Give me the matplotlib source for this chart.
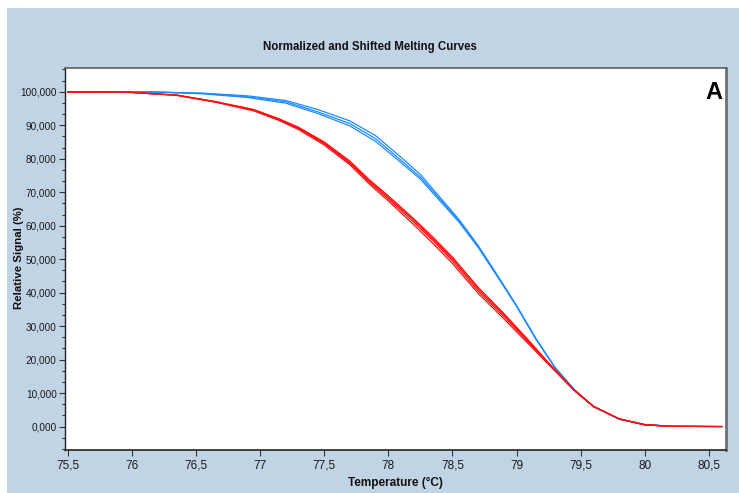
import matplotlib
matplotlib.use("Agg")
import matplotlib.pyplot as plt
from matplotlib.patches import Rectangle
from matplotlib.ticker import FixedLocator, AutoMinorLocator, FuncFormatter

# ---------------- data ----------------
red_temp = [75.5, 76.0, 76.35, 76.65, 76.95, 77.15, 77.3, 77.5, 77.7, 77.85, 78.0, 78.2,
            78.35, 78.5, 78.7, 78.9, 79.1, 79.25, 79.45, 79.6, 79.8, 80.0, 80.2, 80.6]
red_1 = [100, 99.8, 99.0, 97.0, 94.5, 91.6, 89.0, 84.5, 78.6, 73.0, 68.0, 61.0,
         55.5, 49.5, 40.5, 32.9, 24.9, 18.7, 10.8, 6.0, 2.3, 0.5, 0.1, 0.0]
red_2 = [100, 99.8, 99.0, 97.1, 94.7, 91.9, 89.4, 85.0, 79.3, 73.8, 68.9, 62.0,
         56.5, 50.6, 41.6, 33.8, 25.5, 19.0, 10.9, 6.0, 2.3, 0.5, 0.1, 0.0]
red_3 = [100, 99.8, 98.9, 96.9, 94.3, 91.4, 88.7, 84.1, 78.2, 72.5, 67.4, 60.2,
         54.6, 48.7, 39.8, 32.2, 24.4, 18.5, 10.7, 5.9, 2.3, 0.5, 0.1, 0.0]
red_4 = [100, 99.8, 99.0, 97.0, 94.6, 91.7, 89.2, 84.8, 78.9, 73.4, 68.5, 61.6,
         56.0, 50.1, 41.1, 33.4, 25.2, 18.9, 10.8, 6.0, 2.3, 0.5, 0.1, 0.0]

blue_temp = [75.5, 76.0, 76.2, 76.55, 76.9, 77.2, 77.45, 77.7, 77.9, 78.1, 78.25, 78.4,
             78.55, 78.7, 78.85, 79.0, 79.15, 79.3, 79.45, 79.6, 79.8, 80.0, 80.16]
blue_1 = [100, 100, 99.9, 99.5, 98.5, 97.0, 94.0, 90.5, 86.0, 79.5, 74.5, 68.0,
          61.5, 53.8, 45.0, 36.0, 26.2, 17.6, 11.0, 6.0, 2.2, 0.6, 0.2]
blue_2 = [100, 100, 99.9, 99.6, 98.8, 97.4, 94.7, 91.3, 86.9, 80.4, 75.3, 68.6,
          61.9, 54.1, 45.2, 36.1, 26.3, 17.6, 11.0, 6.0, 2.2, 0.6, 0.2]
blue_3 = [100, 100, 99.9, 99.4, 98.3, 96.6, 93.5, 89.8, 85.2, 78.8, 73.9, 67.5,
          61.1, 53.5, 44.8, 35.9, 26.1, 17.6, 11.0, 6.0, 2.2, 0.6, 0.2]

x_ticks = [75.5, 76, 76.5, 77, 77.5, 78, 78.5, 79, 79.5, 80, 80.5]
y_ticks = [0, 10, 20, 30, 40, 50, 60, 70, 80, 90, 100]

title = "Normalized and Shifted Melting Curves"
x_label = "Temperature (°C)"
y_label = "Relative Signal (%)"
panel_letter = "A"

# ---------------- styling ----------------
W, H = 739, 493
DPI = 100
bg = "#c1d4e5"
red = "#ff1010"
blue = "#1e8cff"
fam = ["Liberation Sans", "DejaVu Sans"]

fig = plt.figure(figsize=(W / DPI, H / DPI), dpi=DPI, facecolor="white")
fig.patches.append(Rectangle((7 / W, 0), 1 - 7 / W, 1 - 8 / H,
                             transform=fig.transFigure, facecolor=bg,
                             edgecolor="none", zorder=-10))

ax = fig.add_axes([65 / W, 1 - 450 / H, (725.7 - 65) / W, (450 - 68) / H])
ax.set_facecolor("white")

for ys in (blue_1, blue_2, blue_3):
    ax.plot(blue_temp, ys, color=blue, lw=0.9)
for ys in (red_1, red_2, red_3, red_4):
    ax.plot(red_temp, ys, color=red, lw=0.9)

ax.set_xlim(75.479, 80.63)
ax.set_ylim(-7.0, 107.1)

ax.xaxis.set_major_locator(FixedLocator(x_ticks))
ax.yaxis.set_major_locator(FixedLocator(y_ticks))
ax.yaxis.set_minor_locator(AutoMinorLocator(3))
ax.xaxis.set_major_formatter(FuncFormatter(lambda v, p: (f"{v:g}").replace(".", ",")))
ax.yaxis.set_major_formatter(FuncFormatter(lambda v, p: f"{v:.3f}".replace(".", ",")))

ax.tick_params(axis="both", which="major", direction="out", length=4, width=0.8,
               color="#333333", pad=2)
ax.tick_params(axis="y", which="major", labelsize=7.2)
ax.tick_params(axis="x", which="major", labelsize=8.5, pad=3)
ax.tick_params(axis="y", which="minor", direction="out", length=2.5, width=0.8,
               color="#333333")
for lab in ax.get_xticklabels() + ax.get_yticklabels():
    lab.set_family(fam)
    lab.set_color("#1a1a1a")

ax.spines["left"].set_color("#222222")
ax.spines["bottom"].set_color("#222222")
ax.spines["left"].set_linewidth(1.0)
ax.spines["bottom"].set_linewidth(1.2)
ax.spines["top"].set_color("#606060")
ax.spines["right"].set_color("#707070")
ax.spines["top"].set_linewidth(1.2)
ax.spines["right"].set_linewidth(2.0)

fig.text(370 / W, 1 - 47 / H, title, ha="center", va="center", fontsize=8.3,
         fontweight="bold", family=fam, color="#111111")
fig.text(395 / W, 1 - 483 / H, x_label, ha="center", va="center", fontsize=8.5,
         fontweight="bold", family=fam, color="#111111")
fig.text(19 / W, 1 - 258 / H, y_label, ha="center", va="center", fontsize=8.2,
         fontweight="bold", rotation=90, family=fam, color="#111111")
ax.text(0.995, 0.935, panel_letter, transform=ax.transAxes, ha="right", va="center",
        fontsize=17, fontweight="bold", family=fam)

fig.savefig("out.png", dpi=DPI, facecolor=fig.get_facecolor())
